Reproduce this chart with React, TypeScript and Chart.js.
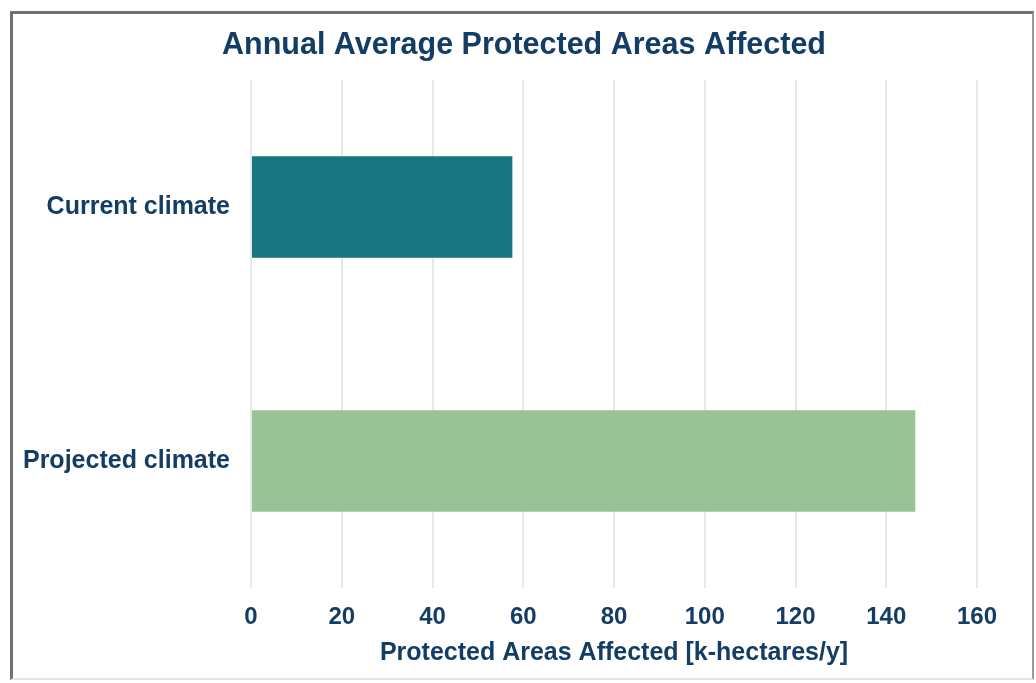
import React, { useEffect, useRef } from "react";
import { Chart, registerables } from "chart.js";

Chart.register(...registerables);

const categories = ["Current climate", "Projected climate"];
const values = [57.6, 146.4];
const barColors = ["#16757f", "#98c396"];
const xTicks = [0, 20, 40, 60, 80, 100, 120, 140, 160];
const chartTitle = "Annual Average Protected Areas Affected";
const xAxisTitle = "Protected Areas Affected [k-hectares/y]";

const TEXT = "#143d65";
const FONT = "'Liberation Sans', Arial, sans-serif";

const titlePlugin = {
  id: "centeredTitle",
  afterDraw(chart: any) {
    const ctx = chart.ctx;
    ctx.save();
    ctx.font = `bold 30.5px ${FONT}`;
    ctx.fillStyle = TEXT;
    ctx.textAlign = "center";
    ctx.textBaseline = "middle";
    ctx.fillText(chartTitle, 524, 46);
    ctx.restore();
  },
};

export default function App() {
  const ref = useRef<HTMLCanvasElement | null>(null);
  useEffect(() => {
    if (!ref.current) return;
    const chart = new Chart(ref.current, {
      type: "bar",
      data: {
        labels: categories,
        datasets: [
          {
            data: values,
            backgroundColor: barColors,
            borderWidth: 0,
            barPercentage: 0.5,
            categoryPercentage: 0.8,
          },
        ],
      },
      plugins: [titlePlugin],
      options: {
        indexAxis: "y",
        animation: false,
        responsive: false,
        maintainAspectRatio: false,
        layout: { padding: { left: 0, right: 59, top: 80, bottom: 11 } },
        plugins: {
          legend: { display: false },
          tooltip: { enabled: false },
          title: { display: false },
        },
        scales: {
          x: {
            min: 0,
            max: 160,
            afterBuildTicks: (s: any) => {
              s.ticks = xTicks.map((v) => ({ value: v }));
            },
            afterFit: (s: any) => {
              s.height = 683 - 11 - 588;
            },
            grid: { color: "#e8e8e8", lineWidth: 2, drawTicks: false },
            border: { display: false },
            ticks: {
              color: TEXT,
              padding: 15,
              font: { family: FONT, size: 24, weight: "bold" },
            },
            title: {
              display: true,
              text: xAxisTitle,
              color: TEXT,
              font: { family: FONT, size: 25, weight: "bold" },
              padding: { top: 4, bottom: 4 },
            },
          },
          y: {
            afterFit: (s: any) => {
              s.width = 251;
            },
            grid: { display: false, drawTicks: false },
            border: { display: false },
            ticks: {
              color: TEXT,
              padding: 21,
              font: { family: FONT, size: 25, weight: "bold" },
            },
          },
        },
      },
    });
    return () => chart.destroy();
  }, []);

  return (
    <div style={{ position: "fixed", left: 0, top: 0, width: 1036, height: 683, background: "#fff" }}>
      <canvas ref={ref} width={1036} height={683} style={{ position: "absolute", left: 0, top: 0, width: 1036, height: 683 }} />
      <div
        style={{
          position: "absolute",
          left: 10,
          top: 11,
          width: 1024,
          height: 669,
          borderLeft: "3px solid #6f6f74",
          borderTop: "3px solid #6f6f74",
          borderRight: "2px solid #9a9a9e",
          borderBottom: "2px solid #e6e6e6",
          boxSizing: "border-box",
          pointerEvents: "none",
        }}
      />
    </div>
  );
}
